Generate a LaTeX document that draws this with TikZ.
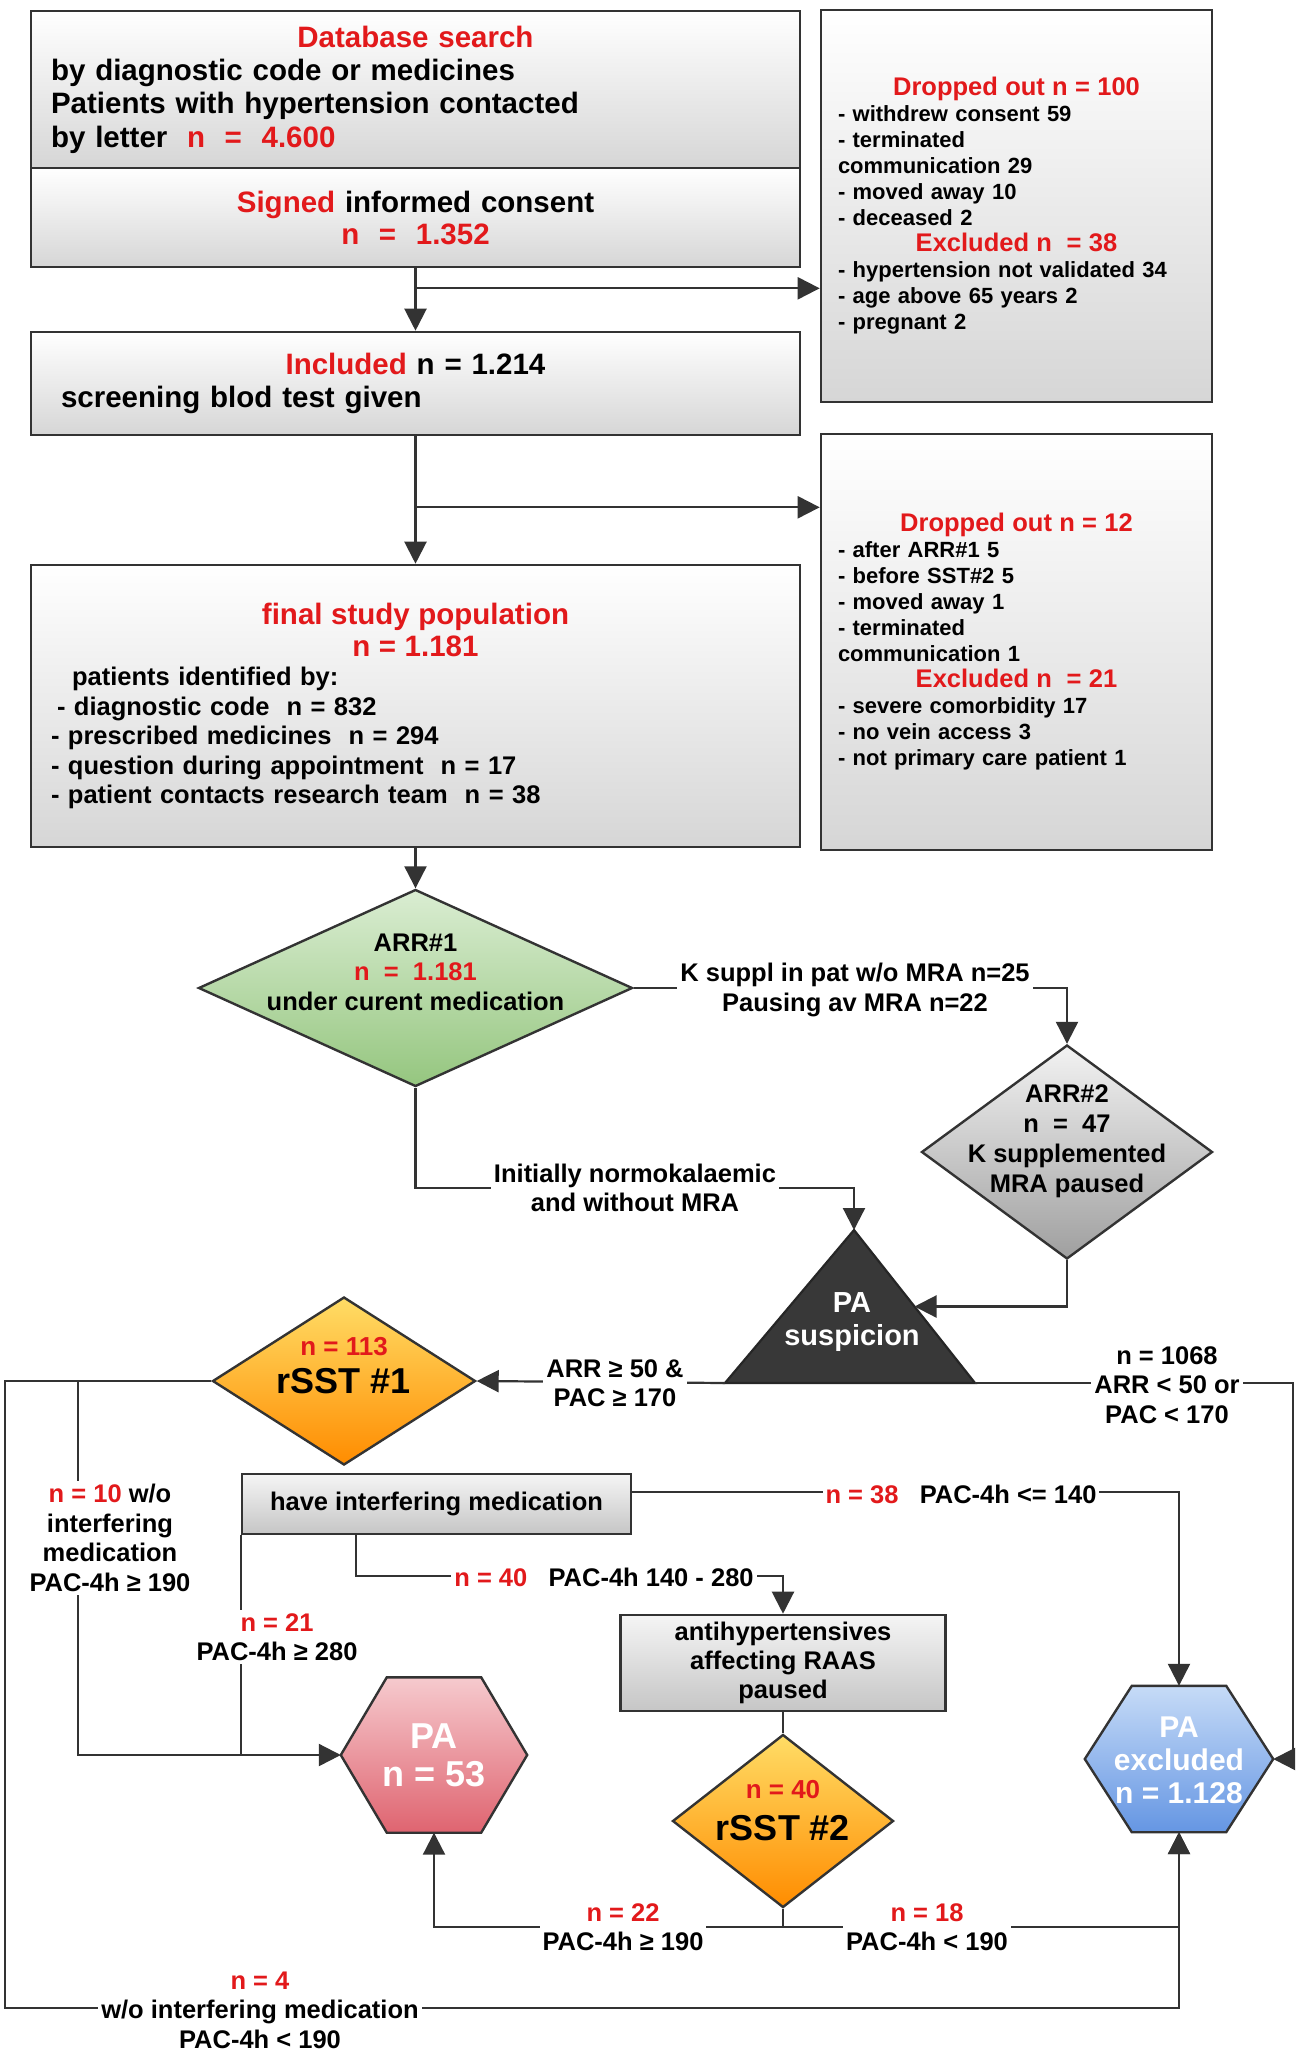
\documentclass[tikz,border=0pt]{standalone}
\usepackage{fontspec}
\setmainfont{Liberation Sans}
\usetikzlibrary{shapes.geometric,arrows.meta,calc}

\definecolor{hired}{HTML}{E2191B}
\definecolor{linegray}{HTML}{333333}
\definecolor{boxgray}{HTML}{D6D6D6}
\definecolor{greentop}{HTML}{DAEDD2}
\definecolor{greenbot}{HTML}{95C67F}
\definecolor{bluetop}{HTML}{C6DBF7}
\definecolor{bluebot}{HTML}{6596E3}
\definecolor{pinktop}{HTML}{F6CACE}
\definecolor{pinkbot}{HTML}{DF6470}
\newcommand{\rd}[1]{\textcolor{hired}{#1}}
\newcommand{\fs}[2]{\fontsize{#1}{#2}\selectfont}

\tikzset{
  box/.style={draw=linegray, line width=2.6, top color=white, bottom color=boxgray, inner xsep=20, inner ysep=0, align=left},
  sidebox/.style={box, inner xsep=17, text width=357, font=\bfseries\fs{22}{26}},
  graybox/.style={draw=linegray, line width=2.6, top color=gray!8, bottom color=gray!45, inner sep=0, align=center},
  decide/.style={diamond, draw=linegray, line width=2.4, inner sep=0},
  hexframe/.style={rectangle, inner sep=0},
  hexline/.style={draw=linegray, line width=2.4, line join=miter},
  hextext/.style={align=center, text=white},
  lab/.style={fill=white, inner sep=3, align=center},
  arr/.style={draw=linegray, line width=2.2, -{Triangle[length=22pt,width=22pt]}},
  plain/.style={draw=linegray, line width=2.2}
}

\begin{document}
\begin{tikzpicture}[x=1pt,y=-1pt,font=\bfseries\fs{25.5}{29.5}]
% canvas
\fill[white] (0,0) rectangle (1299,2053);
\useasboundingbox (0,0) rectangle (1299,2053);

% recruitment boxes
\node[box, text width=729, minimum height=157, font=\bfseries\fs{29.5}{33.3}] (search) at (415.5,89.5) {%
{\centering\rd{Database search}\par}
by diagnostic code or medicines\\
Patients with hypertension contacted\\
by letter\ \ \rd{n\ \ =\ \ 4.600}};
\node[box, text width=729, minimum height=99, align=center, font=\bfseries\fs{29.5}{32}] (consent) at (415.5,217.5) {%
\rd{Signed} informed consent\\\rd{n\ \ =\ \ 1.352}};
\node[box, text width=729, minimum height=103, font=\bfseries\fs{29.5}{33}] (included) at (415.5,383.5) {%
{\centering\rd{Included} n = 1.214\par}
\hspace*{10pt}screening blod test given};
\node[box, text width=729, minimum height=282, font=\bfseries\fs{25.5}{29.5}] (final) at (415.5,706) {%
{\centering\fs{29.5}{32}\rd{final study population}\\\rd{n = 1.181}\par}
\hspace*{21pt}patients identified by:\\
\hspace*{6pt}- diagnostic code\ \ n = 832\\
- prescribed medicines\ \ n = 294\\
- question during appointment\ \ n = 17\\
- patient contacts research team\ \ n = 38};

% dropped out / excluded
\node[sidebox, minimum height=392] (drop1) at (1016.5,206) {%
{\centering\fs{25.5}{26}\rd{Dropped out n = 100}\par}
- withdrew consent 59\\
- terminated\\
communication 29\\
- moved away 10\\
- deceased 2\par
{\centering\fs{25.5}{26}\rd{Excluded n\ \ = 38}\par}
- hypertension not validated 34\\
- age above 65 years 2\\
- pregnant 2};
\node[sidebox, minimum height=416] (drop2) at (1016.5,642) {%
{\centering\fs{25.5}{26}\rd{Dropped out n = 12}\par}
- after ARR\#1 5\\
- before SST\#2 5\\
- moved away 1\\
- terminated\\
communication 1\par
{\centering\fs{25.5}{26}\rd{Excluded n\ \ = 21}\par}
- severe comorbidity 17\\
- no vein access 3\\
- not primary care patient 1};

% screening steps
\node[decide, minimum width=434, minimum height=197, top color=greentop, bottom color=greenbot] (arr1) at (415.5,988) {};
\node[align=center] (arr1-t) at (415.5,972) {ARR\#1\\\rd{n\ \ =\ \ 1.181}\\under curent medication};
\node[decide, minimum width=291, minimum height=214, top color=gray!10, bottom color=gray!75] (arr2) at (1067,1152) {};
\node[align=center, font=\bfseries\fs{25.5}{30}] (arr2-t) at (1067,1141) {ARR\#2\\n\ \ =\ \ 47\\K supplemented\\MRA paused};

% PA suspicion
\coordinate (tritop) at (854,1230);
\coordinate (trileft) at (725,1383);
\coordinate (triright) at (975,1383);
\coordinate (triedge) at ($(tritop)!0.5!(triright)$);
\filldraw[fill=black!78, draw=black!85, line width=2.2] (tritop) -- (trileft) -- (triright) -- cycle;
\node[align=center, text=white, font=\bfseries\fs{29}{33}] (sus-t) at (852,1322) {PA\\suspicion};

% saline tests
\node[decide, minimum width=263, minimum height=168, top color=orange!45!yellow!60!white, bottom color=orange!90!yellow] (rsst1) at (344,1381) {};
\node[font=\bfseries\fs{26}{30}] (rsst1-n) at (344,1347) {\rd{n = 113}};
\node[font=\bfseries\fs{36}{40}] (rsst1-t) at (344,1381) {rSST \#1};
\node[graybox, minimum width=389, minimum height=60] (hasmed) at (436.5,1504) {have interfering medication};
\node[graybox, minimum width=325, minimum height=96, font=\bfseries\fs{25.5}{29}] (anti) at (783,1663) {antihypertensives\\affecting RAAS\\paused};
\node[decide, minimum width=221, minimum height=173, top color=orange!45!yellow!60!white, bottom color=orange!90!yellow] (rsst2) at (783,1821) {};
\node[font=\bfseries\fs{26}{30}] (rsst2-n) at (783,1790) {\rd{n = 40}};
\node[font=\bfseries\fs{36}{40}] (rsst2-t) at (783,1828) {rSST \#2};

% outcomes (hexagons drawn on their frames)
\node[hexframe, minimum width=186, minimum height=155] (pa) at (434,1755) {};
\path[hexline, top color=pinktop, bottom color=pinkbot]
  (pa.west) -- ($(pa.north west)+(46,0)$) -- ($(pa.north east)+(-46,0)$) -- (pa.east)
  -- ($(pa.south east)+(-46,0)$) -- ($(pa.south west)+(46,0)$) -- cycle;
\node[hextext, font=\bfseries\fs{36}{38}] (pa-t) at (434,1755) {PA\\n = 53};
\node[hexframe, minimum width=188, minimum height=146] (paex) at (1179,1759) {};
\path[hexline, top color=bluetop, bottom color=bluebot]
  (paex.west) -- ($(paex.north west)+(47,0)$) -- ($(paex.north east)+(-47,0)$) -- (paex.east)
  -- ($(paex.south east)+(-47,0)$) -- ($(paex.south west)+(47,0)$) -- cycle;
\node[hextext, font=\bfseries\fs{30}{33}] (paex-t) at (1179,1760) {PA\\excluded\\n = 1.128};

% connectors
\coordinate (b1) at ($(consent.south)+(0,20)$);
\coordinate (b2) at ($(included.south)+(0,71)$);
\draw[arr] (consent.south) -- (included.north);
\draw[arr] (b1) -- (b1 -| drop1.west);
\draw[arr] (included.south) -- (final.north);
\draw[arr] (b2) -- (b2 -| drop2.west);
\draw[arr] (final.south) -- (arr1.north);
\draw[arr] (arr1.east) -| (arr2.north);
\draw[arr] (arr1.south) |- ($(tritop)+(0,-42)$) -- (tritop);
\draw[arr] (arr2.south) |- (triedge);
\draw[arr] (trileft) -- (rsst1.east);
\draw[arr] (triright) -- ++(318,0) |- (paex.east);

\coordinate (lowleft) at (5,2008);
\coordinate (n10top) at ($(rsst1.west)+(-133,0)$);
\draw[arr] (rsst1.west) -| (lowleft) -| (paex.south);
\draw[arr] (n10top) |- (pa.west);
\draw[plain] (hasmed.south west) -- (hasmed.south west |- pa.west);
\draw[arr] ($(hasmed.east)+(0,-12)$) -| (paex.north);
\coordinate (hm40) at ($(hasmed.south west)+(115,0)$);
\draw[arr] (hm40) -- ++(0,41) -| (anti.north);
\draw[plain] (anti.south) -- (rsst2.north);
\coordinate (r2low) at ($(rsst2.south)+(0,18)$);
\draw[plain] (rsst2.south) -- (r2low);
\draw[arr] (r2low) -| (pa.south);
\draw[arr] (r2low) -| (paex.south);

% connector labels
\node[lab] (lab-k) at (855,990) {K suppl in pat w/o MRA n=25\\Pausing av MRA n=22};
\node[lab] (lab-init) at (635,1188) {Initially normokalaemic\\and without MRA};
\node[lab] (lab-arr) at (615,1383) {ARR ≥ 50 \&\\PAC ≥ 170};
\node[lab] (lab-1068) at (1167,1385) {n = 1068\\ARR < 50 or\\PAC < 170};
\node[lab] (lab-n10) at (110,1538) {\rd{n = 10} w/o\\interfering\\medication\\PAC-4h ≥ 190};
\node[lab] (lab-n21) at (277,1637) {\rd{n = 21}\\PAC-4h ≥ 280};
\node[lab] (lab-n38) at (961,1494) {\rd{n = 38}\ \ \ PAC-4h <= 140};
\node[lab] (lab-n40) at (604,1577) {\rd{n = 40}\ \ \ PAC-4h 140 - 280};
\node[lab] (lab-n22) at (623,1927) {\rd{n = 22}\\PAC-4h ≥ 190};
\node[lab] (lab-n18) at (927,1927) {\rd{n = 18}\\PAC-4h < 190};
\node[lab] (lab-n4) at (260,2010) {\rd{n = 4}\\w/o interfering medication\\PAC-4h < 190};
\end{tikzpicture}
\end{document}
